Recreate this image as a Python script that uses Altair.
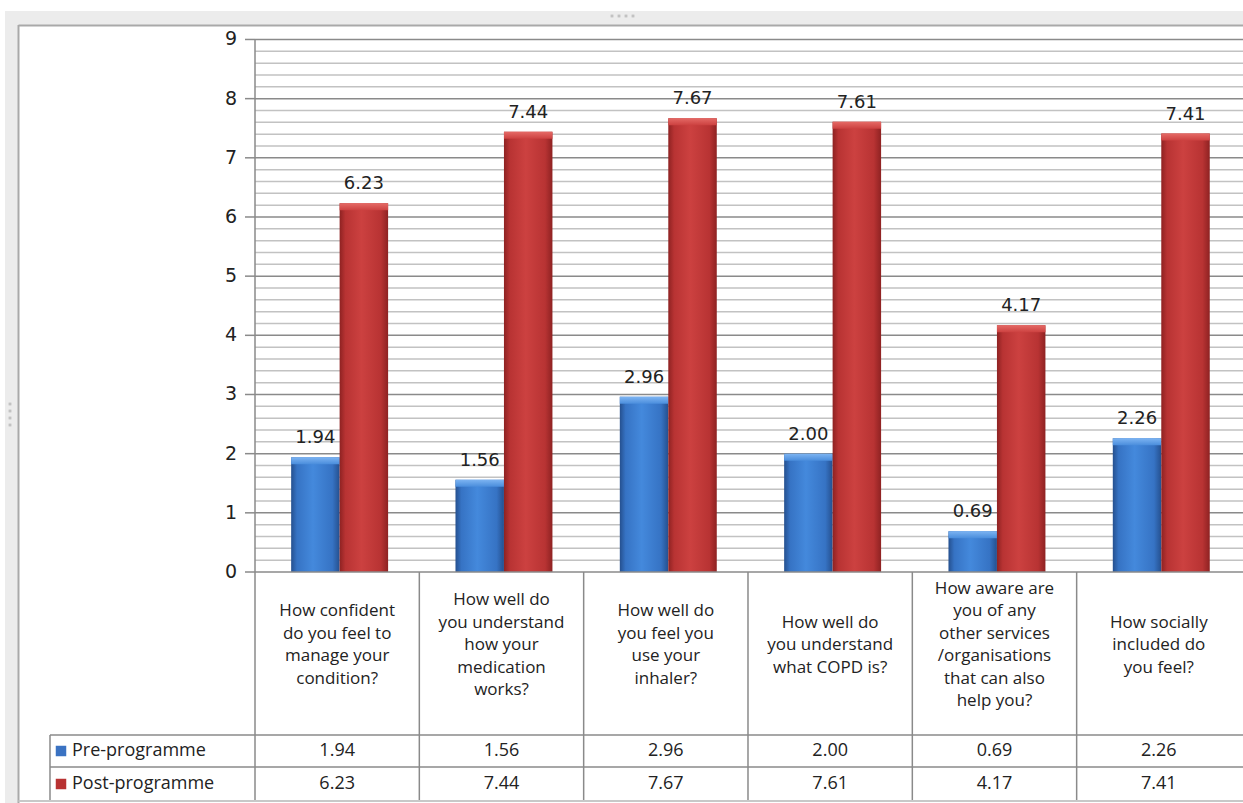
import altair as alt
import pandas as pd

# ---------------- data ----------------
categories = [
    "How confident do you feel to manage your condition?",
    "How well do you understand how your medication works?",
    "How well do you feel you use your inhaler?",
    "How well do you understand what COPD is?",
    "How aware are you of any other services /organisations that can also help you?",
    "How socially included do you feel?",
]
category_lines = [
    ["How confident", "do you feel to", "manage your", "condition?"],
    ["How well do", "you understand", "how your", "medication", "works?"],
    ["How well do", "you feel you", "use your", "inhaler?"],
    ["How well do", "you understand", "what COPD is?"],
    ["How aware are", "you of any", "other services", "/organisations", "that can also", "help you?"],
    ["How socially", "included do", "you feel?"],
]
pre_values = [1.94, 1.56, 2.96, 2.00, 0.69, 2.26]
post_values = [6.23, 7.44, 7.67, 7.61, 4.17, 7.41]
series_names = ["Pre-programme", "Post-programme"]
y_ticks = [0, 1, 2, 3, 4, 5, 6, 7, 8, 9]

# ---------------- layout ----------------
W, H = 1243, 803
X0_PX, BAND_PX = 255, 164.33
Y0_PX, UNIT_PX = 572, 59.17
LINE_H = 22.5


def ux(px):
    return (px - X0_PX) / BAND_PX


def uy(px):
    return (Y0_PX - px) / UNIT_PX


xs = alt.Scale(domain=[ux(0), ux(W)], nice=False, zero=False)
ys = alt.Scale(domain=[uy(H), uy(0)], nice=False, zero=False)
NCAT = len(categories)
XR = ux(W)

# bars
bar_rows = []
for i, c in enumerate(categories):
    bar_rows.append(dict(cat=c, series=series_names[0], value=pre_values[i],
                         xa=i + 0.22, xb=i + 0.515, xc=i + 0.3675))
    bar_rows.append(dict(cat=c, series=series_names[1], value=post_values[i],
                         xa=i + 0.515, xb=i + 0.81, xc=i + 0.6625))
bars_df = pd.DataFrame(bar_rows)
bars_df["cap"] = bars_df["value"] - 7 / UNIT_PX

# gridlines
grid_rows = []
for k in range(1, 46):
    grid_rows.append(dict(v=round(k * 0.2, 1), major=(k % 5 == 0), xa=0.0, xb=XR))
grid_df = pd.DataFrame(grid_rows)

# y axis ticks / labels
tick_df = pd.DataFrame({"v": y_ticks, "xa": [ux(245)] * len(y_ticks), "xb": [0.0] * len(y_ticks),
                        "xl": [ux(237)] * len(y_ticks)})

# table lines
seg = []
for yy in [735, 767]:
    seg.append(dict(xa=ux(50), xb=XR, ya=uy(yy), yb=uy(yy)))
seg.append(dict(xa=ux(50), xb=ux(50), ya=uy(735), yb=uy(800)))
for i in range(1, NCAT):
    seg.append(dict(xa=i, xb=i, ya=0.0, yb=uy(800)))
seg.append(dict(xa=0.0, xb=0.0, ya=9.0, yb=uy(800)))
seg.append(dict(xa=0.0, xb=XR, ya=0.0, yb=0.0))
seg_df = pd.DataFrame(seg)

head_df = pd.DataFrame([dict(x=i + 0.5, y=uy(645 - (len(l) - 1) * LINE_H / 2), t="\n".join(l))
                        for i, l in enumerate(category_lines)])
val_rows = []
for i in range(NCAT):
    val_rows.append(dict(x=i + 0.5, y=uy(751), t=f"{pre_values[i]:.2f}"))
    val_rows.append(dict(x=i + 0.5, y=uy(784), t=f"{post_values[i]:.2f}"))
val_df = pd.DataFrame(val_rows)
row_df = pd.DataFrame([dict(x=ux(72), xs=ux(61), y=uy(751), t=series_names[0], s=series_names[0]),
                       dict(x=ux(72), xs=ux(61), y=uy(784), t=series_names[1], s=series_names[1])])

one = pd.DataFrame({"a": [0]})

# ---------------- styles ----------------
FONT_NUM = "DejaVu Sans"
FONT_TAB = "Open Sans"
HEAD_SIZE = 17
TAB_SIZE = 18


def hgrad(c):
    return alt.Gradient(gradient="linear", x1=0, x2=1, y1=0, y2=0,
                        stops=[alt.GradientStop(color=c[0], offset=0),
                               alt.GradientStop(color=c[1], offset=0.12),
                               alt.GradientStop(color=c[2], offset=0.45),
                               alt.GradientStop(color=c[1], offset=0.85),
                               alt.GradientStop(color=c[0], offset=1)])


blue_grad = hgrad(["#25508f", "#3673c4", "#4489dc"])
red_grad = hgrad(["#8e2222", "#b83333", "#cc4140"])
blue_cap = alt.Gradient(gradient="linear", x1=0, x2=0, y1=0, y2=1,
                        stops=[alt.GradientStop(color="#7db4f2", offset=0),
                               alt.GradientStop(color="#4a8ddc", offset=1)])
red_cap = alt.Gradient(gradient="linear", x1=0, x2=0, y1=0, y2=1,
                       stops=[alt.GradientStop(color="#e56a66", offset=0),
                              alt.GradientStop(color="#cc4140", offset=1)])

# ---------------- layers ----------------
frame_bg = alt.Chart(one).mark_rect(color="#ececec").encode(
    x=alt.value(5), x2=alt.value(18), y=alt.value(11), y2=alt.value(H))
frame_top = alt.Chart(one).mark_rect(color="#ececec").encode(
    x=alt.value(5), x2=alt.value(W), y=alt.value(11), y2=alt.value(25))
frame_l = alt.Chart(one).mark_rule(color="#a9a9a9", strokeWidth=2).encode(
    x=alt.value(18.5), y=alt.value(25), y2=alt.value(H))
frame_t = alt.Chart(one).mark_rule(color="#a9a9a9", strokeWidth=2).encode(
    x=alt.value(18.5), x2=alt.value(W), y=alt.value(25.5))
frame_b = alt.Chart(one).mark_rule(color="#c8c8c8", strokeWidth=2).encode(
    x=alt.value(18.5), x2=alt.value(W), y=alt.value(801))

dots_df = pd.DataFrame({"px": [612, 619, 626, 633, 10, 10, 10, 10],
                        "py": [16, 16, 16, 16, 404, 411, 418, 425]})
dots = alt.Chart(dots_df).mark_square(color="#b0b0b0", size=8).encode(
    x=alt.X("px:Q", scale=None), y=alt.Y("py:Q", scale=None))

grid = alt.Chart(grid_df).mark_rule(strokeWidth=1.5).encode(
    x=alt.X("xa:Q", scale=xs, axis=None),
    x2="xb",
    y=alt.Y("v:Q", scale=ys, axis=None),
    color=alt.condition("datum.major", alt.value("#8a8a8a"), alt.value("#c2c2c2")),
)

yticks = alt.Chart(tick_df).mark_rule(color="#8a8a8a", strokeWidth=1.5).encode(
    x=alt.X("xa:Q", scale=xs, axis=None), x2="xb",
    y=alt.Y("v:Q", scale=ys, axis=None))
ylabels = alt.Chart(tick_df).mark_text(font=FONT_NUM, fontSize=19, color="#222222",
                                       align="right", baseline="middle").encode(
    x=alt.X("xl:Q", scale=xs, axis=None),
    y=alt.Y("v:Q", scale=ys, axis=None),
    text=alt.Text("v:Q", format="d"))

base_bar = alt.Chart(bars_df)


def bar_layer(name, grad, cap):
    d = base_bar.transform_filter(alt.datum.series == name)
    body = d.mark_bar(color=grad).encode(
        x=alt.X("xa:Q", scale=xs, axis=None), x2="xb",
        y=alt.Y("value:Q", scale=ys, axis=None), y2=alt.datum(0))
    top = d.mark_bar(color=cap).encode(
        x=alt.X("xa:Q", scale=xs, axis=None), x2="xb",
        y=alt.Y("value:Q", scale=ys, axis=None), y2="cap")
    return body + top


bars_pre = bar_layer(series_names[0], blue_grad, blue_cap)
bars_post = bar_layer(series_names[1], red_grad, red_cap)

bar_labels = base_bar.mark_text(font=FONT_NUM, fontSize=18, color="#222222",
                                baseline="alphabetic", dy=-14).encode(
    x=alt.X("xc:Q", scale=xs, axis=None),
    y=alt.Y("value:Q", scale=ys, axis=None),
    text=alt.Text("value:Q", format=".2f"))

lines = alt.Chart(seg_df).mark_rule(color="#8a8a8a", strokeWidth=1.5).encode(
    x=alt.X("xa:Q", scale=xs, axis=None), x2="xb",
    y=alt.Y("ya:Q", scale=ys, axis=None), y2="yb")

head = alt.Chart(head_df).mark_text(font=FONT_TAB, fontSize=HEAD_SIZE, color="#222222",
                                    lineBreak="\n", lineHeight=LINE_H,
                                    baseline="middle", align="center").encode(
    x=alt.X("x:Q", scale=xs, axis=None), y=alt.Y("y:Q", scale=ys, axis=None), text="t:N")

vals = alt.Chart(val_df).mark_text(font=FONT_TAB, fontSize=TAB_SIZE, color="#222222",
                                   baseline="middle", align="center").encode(
    x=alt.X("x:Q", scale=xs, axis=None), y=alt.Y("y:Q", scale=ys, axis=None), text="t:N")

rows = alt.Chart(row_df).mark_text(font=FONT_TAB, fontSize=TAB_SIZE, color="#222222",
                                   baseline="middle", align="left").encode(
    x=alt.X("x:Q", scale=xs, axis=None), y=alt.Y("y:Q", scale=ys, axis=None), text="t:N")

keys = alt.Chart(row_df).mark_square(size=110, opacity=1).encode(
    x=alt.X("xs:Q", scale=xs, axis=None), y=alt.Y("y:Q", scale=ys, axis=None),
    color=alt.Color("s:N", scale=alt.Scale(domain=series_names, range=["#3a72c2", "#b83232"]),
                    legend=None))

chart = alt.layer(
    frame_bg, frame_top, frame_l, frame_t, frame_b, dots,
    grid, yticks, ylabels, bars_pre, bars_post, bar_labels, lines, head, vals, rows, keys,
).properties(
    width=W, height=H, padding=0,
    autosize=alt.AutoSizeParams(type="none"),
    background="white",
).configure_view(stroke=None)

chart.save("out.html", embed_options={"renderer": "svg", "actions": False})
